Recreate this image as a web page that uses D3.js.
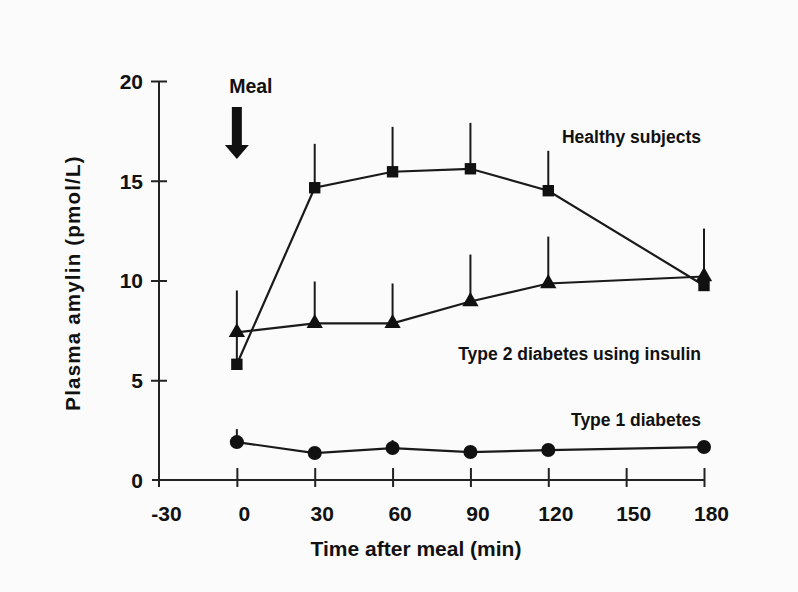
<!DOCTYPE html>
<html>
<head>
<meta charset="utf-8">
<script src="https://cdn.jsdelivr.net/npm/d3@7"></script>
<style>
  body { margin: 0; background: #fbfbfb; }
  svg text { font-family: "Liberation Sans", Arial, sans-serif; font-weight: bold; fill: #111; }
</style>
</head>
<body>
<svg id="chart"></svg>
<script>
// time points (min after meal)
var times = [0, 30, 60, 90, 120, 180];
var xTicks = [-30, 0, 30, 60, 90, 120, 150, 180];
var yTicks = [0, 5, 10, 15, 20];

// plasma amylin, pmol/L, mean and upper error
var healthy = [5.8, 14.65, 15.45, 15.6, 14.5, 9.75];
var healthyErr = [1.5, 2.2, 2.25, 2.3, 2.0, 2.85];
var type2 = [7.4, 7.85, 7.85, 8.95, 9.85, 10.2];
var type2Err = [2.1, 2.1, 2.0, 2.35, 2.35, 2.4];
var type1 = [1.9, 1.35, 1.6, 1.4, 1.5, 1.65];
var type1Err = [0.65, 0.2, 0.4, 0.2, 0.3, 0.3];

var seriesNames = ["Healthy subjects", "Type 2 diabetes using insulin", "Type 1 diabetes"];

var width = 798, height = 592;
var svg = d3.select("#chart").attr("width", width).attr("height", height);

var x = d3.scaleLinear().domain([-30, 180]).range([159, 704]);
var y = d3.scaleLinear().domain([0, 20]).range([480, 81]);

// x axis, ticks cross the line; plain hyphen for -30 like the original
var xAxis = svg.append("g")
    .attr("transform", "translate(0," + y(0) + ")")
    .call(d3.axisBottom(x).tickValues(xTicks).tickFormat(d => String(d))
            .tickSize(0).tickPadding(0));
xAxis.select(".domain").remove();
xAxis.append("line")
    .attr("x1", x(-30) - 7).attr("x2", x(180))
    .attr("stroke", "#222").attr("stroke-width", 2);
xAxis.selectAll(".tick line")
    .attr("y1", -12).attr("y2", 7)
    .attr("stroke", "#222").attr("stroke-width", 2)
    .filter(d => d === -30).remove();
xAxis.selectAll(".tick text")
    .attr("dx", 7).attr("y", 41).attr("dy", 0)
    .style("font-size", "21px");

// y axis
var yAxis = svg.append("g")
    .attr("transform", "translate(" + x(-30) + ",0)")
    .call(d3.axisLeft(y).tickValues(yTicks).tickSize(0).tickPadding(0));
yAxis.select(".domain").remove();
yAxis.append("line")
    .attr("y1", y(20)).attr("y2", y(0) + 7)
    .attr("stroke", "#222").attr("stroke-width", 2);
yAxis.selectAll(".tick line")
    .attr("x1", -8).attr("x2", 8)
    .attr("stroke", "#222").attr("stroke-width", 2)
    .filter(d => d === 0).remove();
yAxis.selectAll(".tick text")
    .attr("x", -16).attr("dy", "0.35em")
    .style("font-size", "21px");

// axis titles
svg.append("text")
    .attr("transform", "translate(80," + 283 + ") rotate(-90)")
    .attr("text-anchor", "middle")
    .style("font-size", "20.5px")
    .style("letter-spacing", "1.2px")
    .text("Plasma amylin (pmol/L)");

svg.append("text")
    .attr("x", 416).attr("y", 556)
    .attr("text-anchor", "middle")
    .style("font-size", "21px")
    .text("Time after meal (min)");

// meal arrow
var ax = x(0);
svg.append("text")
    .attr("x", ax + 14).attr("y", 93)
    .attr("text-anchor", "middle")
    .style("font-size", "19.5px")
    .text("Meal");
svg.append("path")
    .attr("d", "M" + (ax - 5) + ",107 H" + (ax + 5) + " V145 H" + (ax + 12) +
               " L" + ax + ",159 L" + (ax - 12) + ",145 H" + (ax - 5) + " Z")
    .attr("fill", "#111");

function makeRows(vals, errs) {
  return times.map((t, i) => ({ t: t, v: vals[i], e: errs[i] }));
}

var line = d3.line().x(d => x(d.t)).y(d => y(d.v));

function drawSeries(rows, shape) {
  var g = svg.append("g");
  g.selectAll(".err")
    .data(rows)
    .enter().append("line")
      .attr("x1", d => x(d.t)).attr("x2", d => x(d.t))
      .attr("y1", d => y(d.v)).attr("y2", d => y(d.v + d.e))
      .attr("stroke", "#1a1a1a").attr("stroke-width", 2);
  g.append("path")
    .datum(rows)
    .attr("d", line)
    .attr("fill", "none")
    .attr("stroke", "#1a1a1a")
    .attr("stroke-width", 2.2);
  g.selectAll(".mark")
    .data(rows)
    .enter().append("path")
      .attr("transform", d => "translate(" + x(d.t) + "," + y(d.v) + ")")
      .attr("d", d3.symbol().type(shape.type).size(shape.size))
      .attr("fill", "#111");
}

drawSeries(makeRows(healthy, healthyErr), { type: d3.symbolSquare, size: 130 });
drawSeries(makeRows(type2, type2Err), { type: d3.symbolTriangle, size: 115 });
drawSeries(makeRows(type1, type1Err), { type: d3.symbolCircle, size: 155 });

// series labels, right aligned
var labelPos = [[701, 143], [701, 360], [701, 426]];
svg.selectAll(".series-label")
  .data(seriesNames)
  .enter().append("text")
    .attr("x", (d, i) => labelPos[i][0])
    .attr("y", (d, i) => labelPos[i][1])
    .attr("text-anchor", "end")
    .style("font-size", "17.5px")
    .text(d => d);
</script>
</body>
</html>
